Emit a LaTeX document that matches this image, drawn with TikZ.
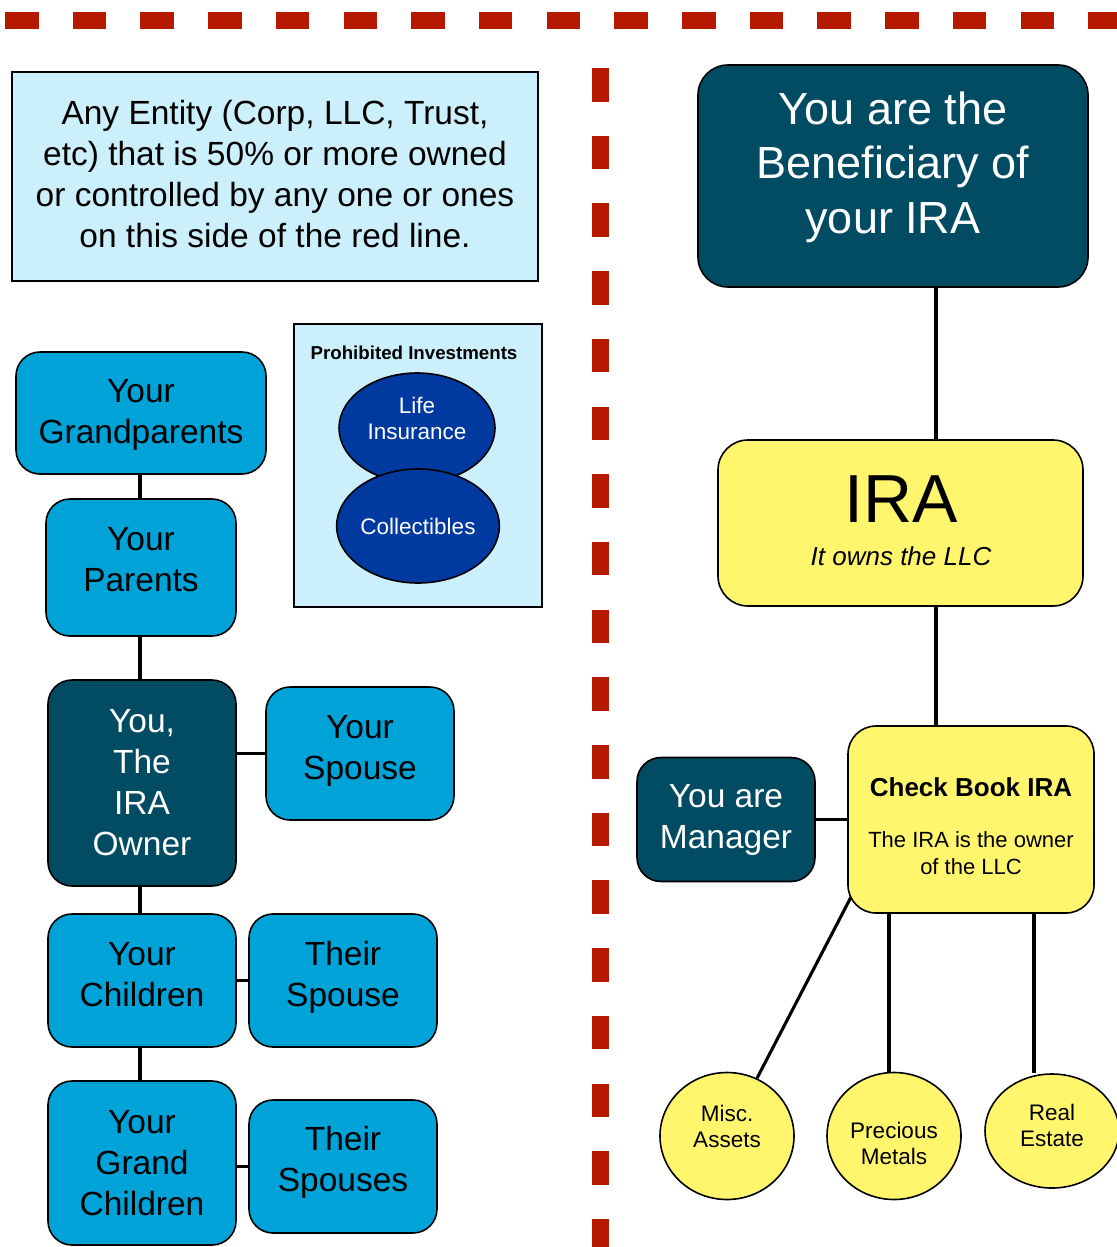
\documentclass[tikz,border=0pt]{standalone}
\usepackage{fontspec}
\setmainfont{Liberation Sans}
\usetikzlibrary{shapes.geometric,backgrounds}
\definecolor{darkteal}{RGB}{2,76,99}
\definecolor{boxblue}{RGB}{0,163,216}
\definecolor{palecyan}{RGB}{204,239,252}
\definecolor{navyfill}{RGB}{0,58,160}
\definecolor{ylw}{RGB}{255,246,110}
\definecolor{redline}{RGB}{181,26,0}
\tikzset{
 every node/.style={inner sep=0pt, align=center},
 boxbase/.style={draw=black, line width=1.6pt, rounded corners=24pt},
 famtxt/.style={font=\fontsize{33.5}{41}\selectfont, text=black},
 owntxt/.style={font=\fontsize{33.5}{41}\selectfont, text=white},
 fam/.style={boxbase, fill=boxblue, famtxt},
 own/.style={boxbase, fill=darkteal, owntxt},
 yel/.style={boxbase, fill=ylw, text=black, rounded corners=30pt},
 note/.style={draw=black, line width=1.6pt, fill=palecyan},
 smalltxt/.style={font=\fontsize{22.5}{26}\selectfont},
 proh/.style={ellipse, draw=black, line width=1.6pt, fill=navyfill, text=white, smalltxt},
 asset/.style={ellipse, draw=black, line width=1.6pt, fill=ylw, text=black, smalltxt},
 assettxt/.style={smalltxt, text=black},
 conn/.style={draw=black, line width=3.1pt},
 redrule/.style={draw=redline, line width=17pt, dash pattern=on 33.5pt off 34.2pt},
}
\begin{document}
\begin{tikzpicture}[x=1pt,y=-1pt]
\useasboundingbox (0,0) rectangle (1116,1247);

% left side: entity note
\node[note, minimum width=526, minimum height=209,
  label={[font=\fontsize{33.5}{41.2}\selectfont, text=black, yshift=2.5pt]center:Any Entity (Corp, LLC, Trust,\\etc) that is 50\% or more owned\\or controlled by any one or ones\\on this side of the red line.}] (entity) at (275,176.5) {};

% prohibited investments
\node[note, minimum width=248, minimum height=283] (prohbox) at (418,465.5) {};
\node[font=\bfseries\fontsize{18.7}{22}\selectfont] (prohtitle) at (414,353) {Prohibited Investments};
\node[proh, minimum width=156, minimum height=110,
  label={[smalltxt, text=white, yshift=10pt]center:Life\\Insurance}] (life) at (417,428) {};
\node[proh, minimum width=160, minimum height=114] (coll) at (418,526) {Collectibles};

% family tree
\node[fam, minimum width=250, minimum height=122,
  label={[famtxt, yshift=-2pt]center:Your\\Grandparents}] (gp) at (141,413) {};
\node[fam, minimum width=190, minimum height=137,
  label={[famtxt, yshift=8pt]center:Your\\Parents}] (par) at (141,567.5) {};
\node[own, minimum width=188, minimum height=206] (you) at (142,783) {You,\\The\\IRA\\Owner};
\node[fam, minimum width=188, minimum height=133,
  label={[famtxt, yshift=3pt]center:Your\\Spouse}] (sp) at (360,753.5) {};
\node[fam, minimum width=188, minimum height=133,
  label={[famtxt, yshift=6pt]center:Your\\Children}] (ch) at (142,980.5) {};
\node[fam, minimum width=188, minimum height=133,
  label={[famtxt, yshift=3pt]center:Their\\Spouse}] (tsp) at (343,980.5) {};
\node[fam, minimum width=188, minimum height=164] (gc) at (142,1163) {Your\\Grand\\Children};
\node[fam, minimum width=188, minimum height=133,
  label={[famtxt, yshift=4pt]center:Their\\Spouses}] (tsps) at (343,1166.5) {};

% right side
\node[own, minimum width=390, minimum height=222, rounded corners=30pt,
  label={[font=\fontsize{45}{54.5}\selectfont, text=white, yshift=9pt]center:You are the\\Beneficiary of\\your IRA}] (ben) at (893,176) {};
\node[yel, minimum width=365, minimum height=166] (ira) at (900.5,523) {};
\node[font=\fontsize{68}{70}\selectfont] (iratitle) at (901,499) {IRA};
\node[font=\itshape\fontsize{26}{30}\selectfont] (irasub) at (901,556) {It owns the LLC};

\node[yel, minimum width=246, minimum height=187, rounded corners=28pt] (cb) at (971,819.5) {};
\node[font=\bfseries\fontsize{26}{30}\selectfont] (cbtitle) at (971,787) {Check Book IRA};
\node[font=\fontsize{22}{27}\selectfont] (cbbody) at (971,853.5) {The IRA is the owner\\of the LLC};

\node[own, minimum width=178, minimum height=124] (mgr) at (726,819.5) {You are\\Manager};

\node[asset, minimum width=134, minimum height=127,
  label={[assettxt, yshift=10pt]center:Misc.\\Assets}] (misc) at (727,1136) {};
\node[asset, minimum width=134, minimum height=127,
  label={[assettxt, yshift=-7pt]center:Precious\\Metals}] (prec) at (894,1136) {};
\node[asset, minimum width=134, minimum height=114,
  label={[assettxt, yshift=6pt]center:Real\\Estate}] (real) at (1052,1131) {};

\coordinate (lefttrunk) at (140,0);
\coordinate (trunk) at (936,0);
\coordinate (pmx) at (889,0);
\coordinate (rex) at (1034,0);
\coordinate (cbmisc) at (851,897);

\begin{scope}[on background layer]
  \draw[redrule] (5,20.5) -- (1150,20.5);
  \draw[redrule] (600.5,68) -- (600.5,1270);
  \draw[conn] (gp.south -| lefttrunk) -- (par.north -| lefttrunk);
  \draw[conn] (par.south -| lefttrunk) -- (you.north -| lefttrunk);
  \draw[conn] (you.south -| lefttrunk) -- (ch.north -| lefttrunk);
  \draw[conn] (ch.south -| lefttrunk) -- (gc.north -| lefttrunk);
  \draw[conn] (sp.west -| you.east) -- (sp.west);
  \draw[conn] (tsp.west -| ch.east) -- (tsp.west);
  \draw[conn] (tsps.west -| gc.east) -- (tsps.west);
  \draw[conn] (ben.south -| trunk) -- (ira.north -| trunk);
  \draw[conn] (ira.south -| trunk) -- (cb.north -| trunk);
  \draw[conn] (mgr.east) -- (mgr.east -| cb.west);
  \draw[conn] (misc) -- (cbmisc);
  \draw[conn] (cb.south -| pmx) -- (prec.north -| pmx);
  \draw[conn] (cb.south -| rex) -- (real.north -| rex);
\end{scope}
\end{tikzpicture}
\end{document}
